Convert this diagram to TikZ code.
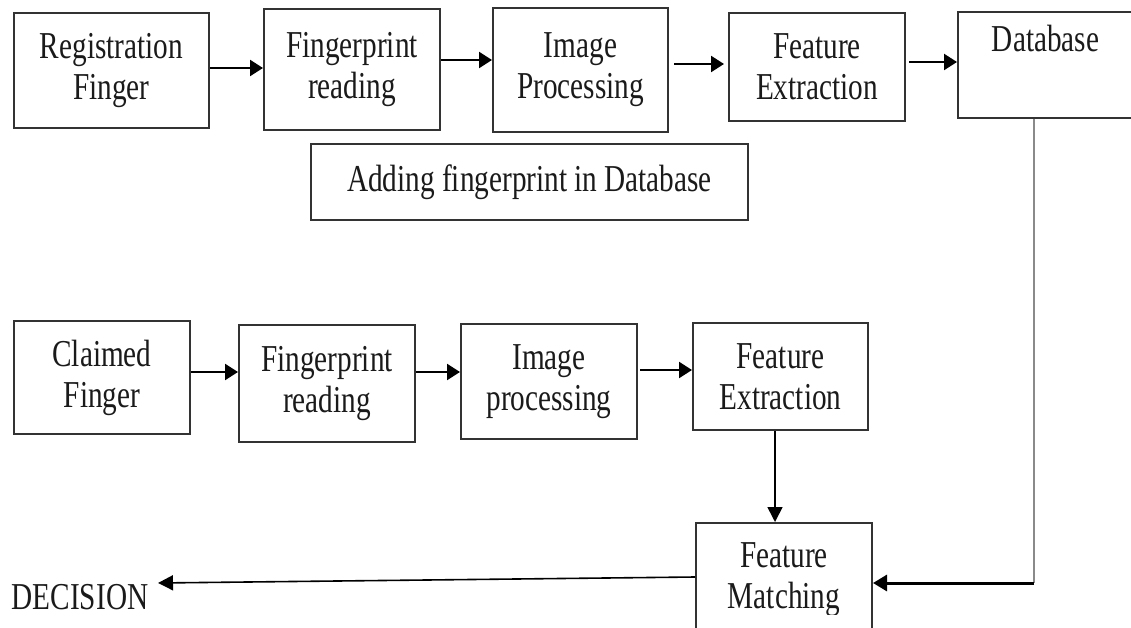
\documentclass[tikz,border=0pt]{standalone}
\usepackage{fontspec}
\setmainfont[FakeStretch=0.77]{Liberation Serif}
\usetikzlibrary{arrows.meta}
\definecolor{boxc}{HTML}{333333}
\definecolor{txtc}{HTML}{1A1A1A}
\definecolor{grayline}{HTML}{8A8A8A}
\begin{document}
\begin{tikzpicture}[x=1pt,y=-1pt,
  box/.style={draw=boxc, line width=2pt, align=center, inner sep=0pt,
    font=\fontsize{38}{41}\selectfont, text=txtc},
  lbl/.style={inner sep=0pt, font=\fontsize{38}{41}\selectfont, text=txtc},
  arr/.style={draw=black, line width=2.3pt, -{Triangle[length=13pt,width=16pt]}},
  thinarr/.style={draw=black, line width=1.6pt, -{Triangle[length=15pt,width=15pt]}},
]
\useasboundingbox (0,0) rectangle (1131,628);

% top row
\node[box, minimum width=195pt, minimum height=115pt] (reg) at (111.5,70.5) {Registration\\Finger};
\node[box, minimum width=176pt, minimum height=121pt] (fp1) at (352,69.5) {Fingerprint\\reading};
\node[box, minimum width=175pt, minimum height=124pt] (ip1) at (580.5,70) {Image\\Processing};
\node[box, minimum width=176pt, minimum height=108pt] (fe1) at (817,67) {Feature\\Extraction};
\node[box, minimum width=175pt, minimum height=106pt] (db) at (1045.5,65) {Database\\\strut};
\node[box, minimum width=437pt, minimum height=76pt] (add) at (529.5,182) {Adding fingerprint in Database};

% bottom row
\node[box, minimum width=176pt, minimum height=113pt] (cf) at (102,377.5) {Claimed\\Finger};
\node[box, minimum width=176pt, minimum height=117pt] (fp2) at (327,383.5) {Fingerprint\\reading};
\node[box, minimum width=176pt, minimum height=115pt] (ip2) at (549,381.5) {Image\\processing};
\node[box, minimum width=175pt, minimum height=107pt] (fe2) at (780.5,376.5) {Feature\\Extraction};
\node[box, minimum width=176pt, minimum height=114pt] (fm) at (784,580) {Feature\\Matching};
\fill[white] (697.6,615) rectangle (870.4,629);

\node[lbl] (dec) at (80,597) {DECISION};
\coordinate (dectip) at (158,583);
\coordinate (corner) at (1034,583);

% top arrows
\draw[arr] ([yshift=2.5pt]reg.east) -- ([yshift=1.5pt]fp1.west);
\draw[arr] ([yshift=9.5pt]fp1.east) -- ([yshift=10pt]ip1.west);
\draw[arr, shorten <=5pt, shorten >=4pt] ([yshift=6pt]ip1.east) -- ([yshift=3pt]fe1.west);
\draw[arr, shorten <=3pt] ([yshift=5pt]fe1.east) -- ([yshift=3pt]db.west);

% bottom arrows
\draw[arr] ([yshift=5.5pt]cf.east) -- ([yshift=11.5pt]fp2.west);
\draw[arr] ([yshift=11.5pt]fp2.east) -- ([yshift=9.5pt]ip2.west);
\draw[arr, shorten <=2pt] ([yshift=11.5pt]ip2.east) -- ([yshift=6.5pt]fe2.west);
\draw[thinarr] ([xshift=-5.5pt]fe2.south) -- ([xshift=-9pt]fm.north);
\draw[thinarr] ([yshift=3pt]fm.west) -- (dectip);

% database feedback
\draw[grayline, line width=1.6pt] ([xshift=-11.5pt]db.south) -- (corner);
\draw[draw=black, line width=3pt, -{Triangle[length=14pt,width=16pt]}] (corner) -- ([yshift=-3pt]fm.east);
\end{tikzpicture}
\end{document}
